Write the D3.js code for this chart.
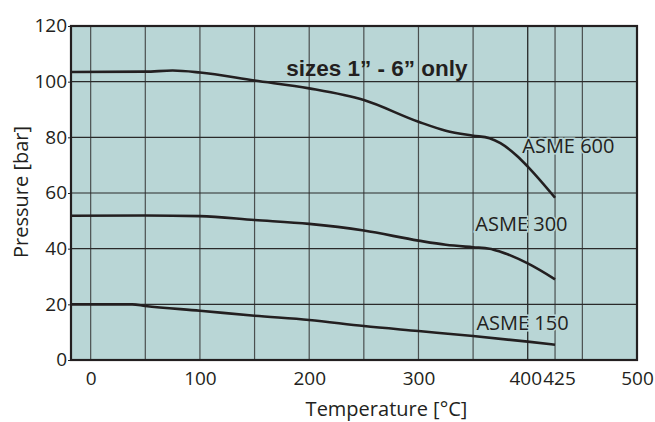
<!DOCTYPE html>
<html><head><meta charset="utf-8">
<script src="https://cdn.jsdelivr.net/npm/d3@7"></script>
<style>body{margin:0;background:#fff}</style>
</head><body>
<script>
// Data
const xGrid = [0, 50, 100, 150, 200, 250, 300, 350, 400, 425, 450];
const xTickLabels = [0, 100, 200, 300, 400, 425, 500];
const yTicks = [0, 20, 40, 60, 80, 100, 120];
const asme600T = [-18, 50, 75, 100, 150, 200, 250, 300, 325, 350, 365, 375, 390, 400, 425];
const asme600P = [103.5, 103.6, 104, 103.3, 100.4, 97.6, 93.4, 85.6, 82.4, 80.6, 79.7, 77.9, 73.4, 69.5, 58.3];
const asme300T = [-18, 50, 100, 150, 200, 250, 300, 325, 350, 365, 375, 400, 425];
const asme300P = [51.8, 51.9, 51.7, 50.3, 48.9, 46.5, 42.9, 41.4, 40.5, 40, 38.9, 34.7, 29.0];
const asme150T = [-18, 38, 50, 100, 150, 200, 250, 300, 350, 400, 425];
const asme150P = [20, 20, 19.4, 17.7, 15.9, 14.4, 12.2, 10.4, 8.6, 6.6, 5.5];
const seriesNames = ["ASME 600", "ASME 300", "ASME 150"];
const note = "sizes 1\u201d - 6\u201d only";

const W = 655, H = 422;
const m = {l: 71, t: 26, r: 18, b: 62};
const iw = W - m.l - m.r, ih = H - m.t - m.b;
const ink = "#231f20", bg = "#b9d6d6";

const svg = d3.select("body").append("svg").attr("width", W).attr("height", H);
const g = svg.append("g").attr("transform", `translate(${m.l},${m.t})`);
const x = d3.scaleLinear().domain([-18, 500]).range([0, iw]);
const y = d3.scaleLinear().domain([0, 120]).range([ih, 0]);

g.append("rect").attr("width", iw).attr("height", ih).attr("fill", bg);

// grid
g.selectAll(".vg").data(xGrid).enter().append("line")
  .attr("x1", d => x(d)).attr("x2", d => x(d)).attr("y1", 0).attr("y2", ih)
  .attr("stroke", d => d === 400 ? "#1a1a1a" : "#4a4f4f").attr("stroke-width", 1.2);
g.selectAll(".hg").data(yTicks.filter(d => d > 0 && d < 120)).enter().append("line")
  .attr("x1", 0).attr("x2", iw).attr("y1", d => y(d)).attr("y2", d => y(d))
  .attr("stroke", "#2a2a2a").attr("stroke-width", 1.2);

// axes
const fontTick = "'Open Sans', sans-serif";
const ax = g.append("g").attr("transform", `translate(0,${ih})`)
  .call(d3.axisBottom(x).tickValues(xTickLabels).tickSize(0).tickPadding(12));
ax.select(".domain").remove();
ax.selectAll("text").attr("font-family", fontTick).attr("font-size", 19).attr("fill", ink)
  .attr("dx", d => d === 400 ? -2.5 : d === 425 ? 4 : 0);

const ay = g.append("g").call(d3.axisLeft(y).tickValues(yTicks).tickSize(3).tickPadding(1));
ay.select(".domain").remove();
ay.selectAll("line").attr("stroke", ink);
ay.selectAll("text").attr("font-family", fontTick).attr("font-size", 19).attr("fill", ink).attr("dy", "0.3em");

// labels (beneath the curves)
const labelPos = [[395, 74.3], [352, 46.2], [353, 10.9]];
g.selectAll(".lab").data(seriesNames).enter().append("text")
  .attr("x", (d, i) => x(labelPos[i][0])).attr("y", (d, i) => y(labelPos[i][1]))
  .text(d => d)
  .attr("font-family", fontTick).attr("font-size", 20).attr("fill", ink)
  .attr("stroke", bg).attr("stroke-width", 3).attr("paint-order", "stroke");

g.append("text").attr("x", x(179)).attr("y", y(102.2)).text(note)
  .attr("font-family", "'Liberation Sans', Arial, sans-serif").attr("font-weight", "bold")
  .attr("font-size", 22.5).attr("fill", ink);

// frame
g.append("rect").attr("width", iw).attr("height", ih).attr("fill", "none")
  .attr("stroke", ink).attr("stroke-width", 2.2);

// lines
const line = d3.line().x(d => x(d[0])).y(d => y(d[1])).curve(d3.curveMonotoneX);
const series = [
  d3.zip(asme600T, asme600P),
  d3.zip(asme300T, asme300P),
  d3.zip(asme150T, asme150P)
];
g.selectAll(".ser").data(series).enter().append("path")
  .attr("d", line).attr("fill", "none").attr("stroke", ink).attr("stroke-width", 2.6);

// axis titles
svg.append("text").attr("x", 386.5).attr("y", 416).attr("text-anchor", "middle")
  .attr("font-family", fontTick).attr("font-size", 20).attr("fill", ink).text("Temperature [°C]");
svg.append("text").attr("transform", "translate(28,192) rotate(-90)").attr("text-anchor", "middle")
  .attr("font-family", fontTick).attr("font-size", 20).attr("fill", ink).text("Pressure [bar]");
</script>
</body></html>
